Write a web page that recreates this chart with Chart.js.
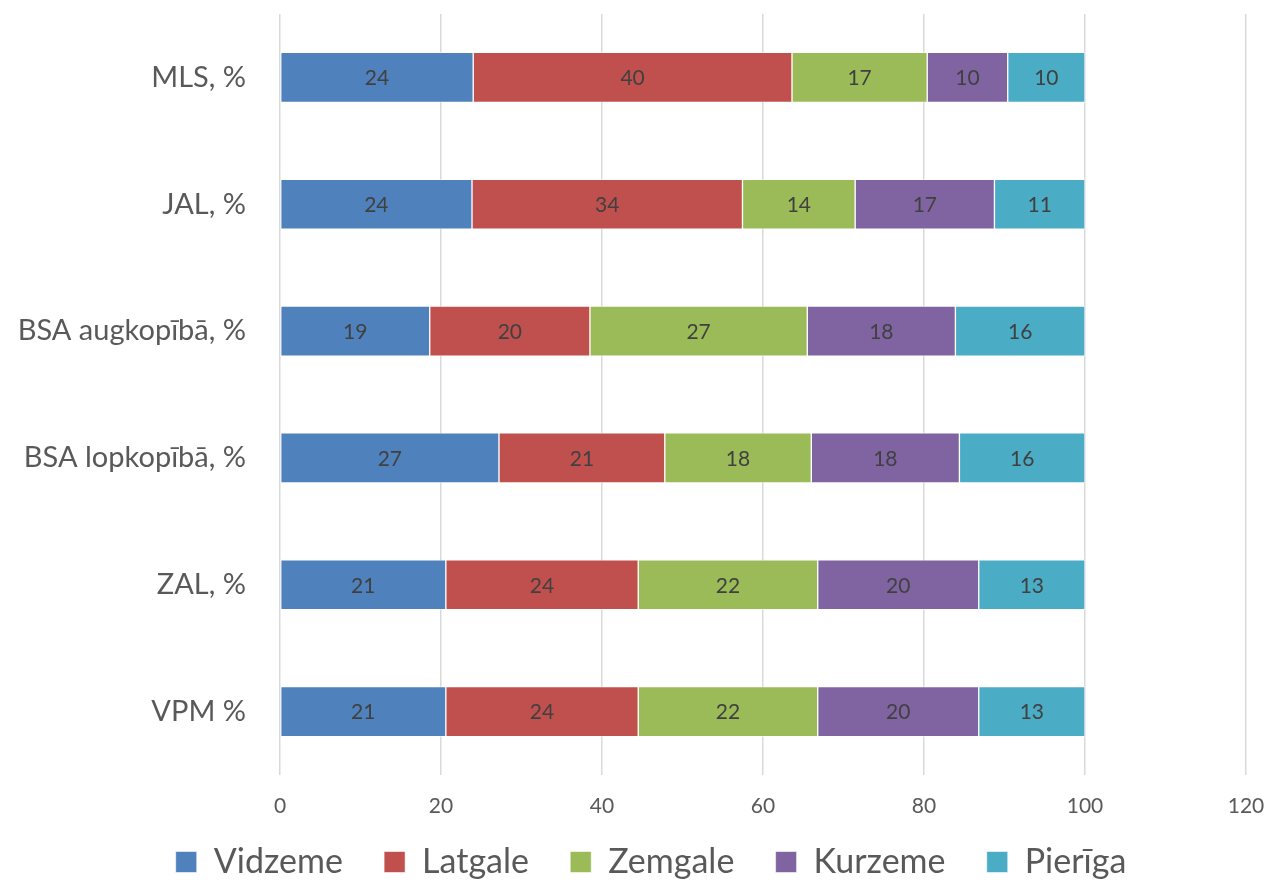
<!DOCTYPE html>
<html>
<head>
<meta charset="utf-8">
<script src="https://cdn.jsdelivr.net/npm/chart.js"></script>
<style>
  html, body { margin: 0; padding: 0; background: #fff; }
  #wrap { width: 1268px; height: 884px; }
</style>
</head>
<body>
<div id="wrap"><canvas id="grafico"></canvas></div>
<script>
const kategorijas = ['MLS, %', 'JAL, %', 'BSA augkopībā, %', 'BSA lopkopībā, %', 'ZAL, %', 'VPM %'];
const vidzeme = [24.0, 23.85, 18.6, 27.2, 20.6, 20.6];
const latgale = [39.6, 33.6, 19.9, 20.6, 23.9, 23.9];
const zemgale = [16.8, 14.0, 27.0, 18.2, 22.3, 22.3];
const kurzeme = [10.0, 17.3, 18.4, 18.4, 20.0, 20.0];
const pieriga = [9.6, 11.25, 16.1, 15.6, 13.2, 13.2];
const xTicks = [0, 20, 40, 60, 80, 100, 120];

const fonts = 'Lato, "Open Sans", sans-serif';

document.addEventListener('DOMContentLoaded', function() {
  graficoRegioni();
});

// skaitli uz joslām (noapaļoti)
const etiketes = {
  id: 'etiketes',
  afterDatasetsDraw(chart) {
    const ctx = chart.ctx;
    ctx.save();
    ctx.font = '21px ' + fonts;
    ctx.fillStyle = '#404040';
    ctx.textAlign = 'center';
    ctx.textBaseline = 'middle';
    chart.data.datasets.forEach(function(ds, i) {
      chart.getDatasetMeta(i).data.forEach(function(bar, j) {
        const p = bar.getProps(['x', 'y', 'base'], true);
        ctx.fillText(Math.round(ds.data[j]), (p.x + p.base) / 2, p.y + 1);
      });
    });
    ctx.restore();
  }
};

// leģendu nedaudz pa labi, kā oriģinālā
const legendaNobide = {
  id: 'legendaNobide',
  afterLayout(chart) {
    if (chart.legend) {
      chart.legend.left += 28;
      chart.legend.right += 28;
    }
  }
};

function graficoRegioni(){
  const ctx = document.getElementById('grafico');
  const dati = [
    ['Vidzeme', vidzeme, '#4F81BD'],
    ['Latgale', latgale, '#C0504D'],
    ['Zemgale', zemgale, '#9BBB59'],
    ['Kurzeme', kurzeme, '#8064A2'],
    ['Pierīga', pieriga, '#4BACC6']
  ];

  new Chart(ctx, {
    type: 'bar',
    data: {
      labels: kategorijas,
      datasets: dati.map(function(d) {
        return {
          label: d[0],
          data: d[1],
          backgroundColor: d[2],
          borderColor: 'rgba(255,255,255,0.55)',
          borderWidth: 1,
          borderSkipped: false,
          barThickness: 50
        };
      })
    },
    options: {
      indexAxis: 'y',
      responsive: true,
      maintainAspectRatio: false,
      animation: false,
      layout: { padding: { top: 14, right: 22, left: 0, bottom: -5 } },
      plugins: {
        tooltip: { enabled: false },
        legend: {
          position: 'bottom',
          labels: {
            font: { family: fonts, size: 34 },
            color: '#595959',
            boxWidth: 21,
            boxHeight: 21,
            padding: 20,
            generateLabels: function(chart) {
              const items = Chart.defaults.plugins.legend.labels.generateLabels(chart);
              // nedaudz vairāk vietas starp leģendas elementiem
              items.forEach(function(it, i) {
                if (i < items.length - 1) it.text = it.text + '\u2002\u2009';
              });
              return items;
            }
          }
        }
      },
      scales: {
        x: {
          stacked: true,
          min: 0,
          max: 120,
          afterBuildTicks: function(s) { s.ticks = xTicks.map(function(v) { return { value: v }; }); },
          grid: { color: '#d9d9d9', lineWidth: 1.5, drawTicks: false },
          border: { display: false },
          ticks: {
            font: { family: fonts, size: 21 },
            color: '#595959',
            padding: 19
          },
          afterFit: function(s) {
            s.height = 50;
            s.paddingLeft = 0;
            s.paddingRight = 0;
          }
        },
        y: {
          stacked: true,
          grid: { display: false },
          border: { display: false },
          ticks: {
            font: { family: fonts, size: 29 },
            color: '#595959',
            padding: 26
          },
          afterFit: function(s) {
            s.width = 280;
            s.paddingTop = 0;
            s.paddingBottom = 0;
          }
        }
      }
    },
    plugins: [etiketes, legendaNobide]
  });
}
</script>
</body>
</html>
